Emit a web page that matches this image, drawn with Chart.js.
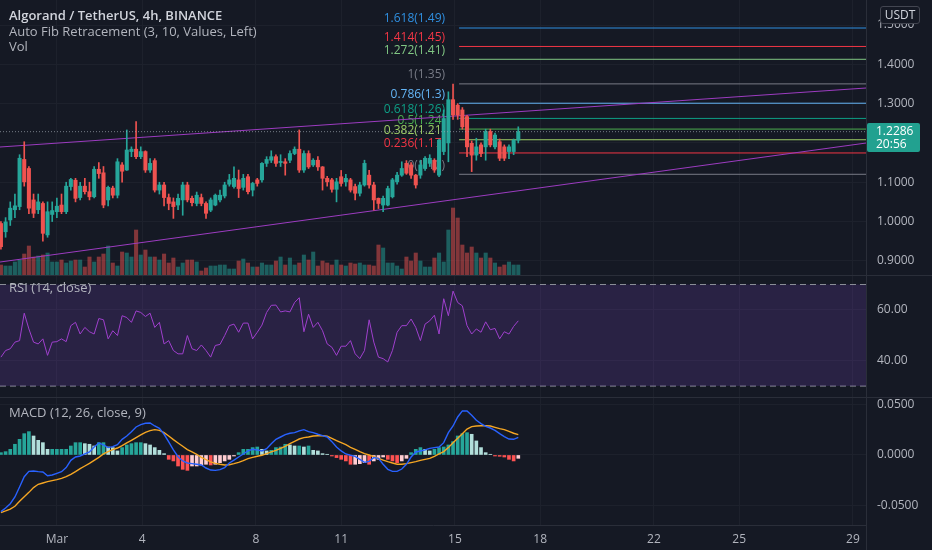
<!DOCTYPE html>
<html>
<head>
<meta charset="utf-8">
<script src="https://cdn.jsdelivr.net/npm/chart.js@4.4.0/dist/chart.umd.min.js"></script>
<style>
  body { margin: 0; background: #151924; width: 932px; height: 550px; overflow: hidden; font-family: 'Open Sans', sans-serif; }
  #wrap { position: relative; width: 932px; height: 550px; }
  canvas { position: absolute; left: 0; }
  .lbl { position: absolute; left: 9px; color: #b2b5be; font-size: 13px; line-height: 16px; white-space: nowrap; }
  .sep { position: absolute; left: 0; width: 932px; height: 1px; background: #2a2e39; }
  #vline { position: absolute; left: 866px; top: 0; width: 1px; height: 550px; background: #2a2e39; }
  #usdt { position: absolute; left: 880px; top: 6px; width: 38px; height: 16px; border: 1px solid #434651; border-radius: 3px;
          background: #151924; color: #d1d4dc; font-size: 12px; line-height: 16px; text-align: center; }
  #last { position: absolute; left: 867px; top: 123px; width: 53px; height: 29px; background: #22a190; border-radius: 2px;
          color: #fff; font-size: 12px; line-height: 13px; padding-top: 1px; box-sizing: border-box; padding-left: 9px; }
</style>
</head>
<body>
<div id="wrap">
  <canvas id="main" width="932" height="275" style="top:0"></canvas>
  <canvas id="rsi" width="932" height="121" style="top:276px"></canvas>
  <canvas id="macd" width="932" height="152" style="top:398px"></canvas>
  <div class="sep" style="top:275px"></div>
  <div class="sep" style="top:397px"></div>
  <div id="vline"></div>
  <div class="lbl" style="top:7px;color:#d1d4dc;font-weight:600">Algorand / TetherUS, 4h, BINANCE</div>
  <div class="lbl" style="top:23px">Auto Fib Retracement (3, 10, Values, Left)</div>
  <div class="lbl" style="top:38px">Vol</div>
  <div class="lbl" style="top:279px">RSI (14, close)</div>
  <div class="lbl" style="top:404px">MACD (12, 26, close, 9)</div>
  <div id="usdt">USDT</div>
  <div id="last">1.2286<br>20:56</div>
</div>
<script>
// 4h candles, Feb 27 -> Mar 17
const opens = [0.995,0.974,1.004,1.030,1.038,1.158,1.135,1.055,1.030,1.046,0.966,1.018,1.025,1.042,1.025,1.089,1.105,1.061,1.090,1.076,
  1.063,1.133,1.124,1.055,1.085,1.067,1.144,1.131,1.178,1.184,1.165,1.178,1.131,1.155,1.080,1.093,1.061,1.050,1.042,1.055,
  1.093,1.059,1.046,1.061,1.046,1.029,1.042,1.055,1.065,1.095,1.089,1.106,1.087,1.114,1.080,1.106,1.106,1.148,1.156,1.165,
  1.150,1.152,1.156,1.173,1.184,1.131,1.173,1.144,1.156,1.139,1.110,1.106,1.082,1.114,1.101,1.106,1.089,1.072,1.093,1.118,
  1.093,1.059,1.042,1.042,1.063,1.101,1.118,1.148,1.144,1.118,1.118,1.135,1.148,1.156,1.118,1.178,1.200,1.310,1.296,1.284,
  1.267,1.199,1.169,1.195,1.190,1.229,1.190,1.203,1.190,1.178,1.178,1.207];
const highs = [1.000,1.010,1.050,1.070,1.170,1.203,1.140,1.070,1.070,1.050,1.050,1.050,1.060,1.070,1.100,1.110,1.110,1.100,1.110,1.100,
  1.140,1.150,1.140,1.090,1.090,1.160,1.150,1.233,1.190,1.254,1.190,1.180,1.160,1.160,1.100,1.100,1.070,1.060,1.070,1.100,
  1.100,1.065,1.075,1.070,1.050,1.060,1.070,1.080,1.100,1.120,1.139,1.131,1.120,1.120,1.100,1.110,1.150,1.165,1.180,1.170,
  1.170,1.160,1.180,1.190,1.233,1.180,1.180,1.160,1.165,1.140,1.115,1.110,1.110,1.130,1.120,1.110,1.095,1.100,1.156,1.130,
  1.100,1.060,1.065,1.090,1.110,1.125,1.152,1.155,1.150,1.120,1.156,1.165,1.170,1.160,1.210,1.284,1.330,1.350,1.300,1.290,
  1.270,1.205,1.212,1.200,1.235,1.235,1.225,1.210,1.195,1.195,1.210,1.241];
const lows = [0.930,0.960,0.990,1.010,1.030,1.090,1.020,1.010,1.020,0.950,0.960,1.000,1.010,1.020,1.020,1.080,1.050,1.055,1.070,1.055,
  1.060,1.110,1.035,1.040,1.060,1.060,1.100,1.130,1.165,1.160,1.160,1.125,1.125,1.075,1.070,1.040,1.030,1.008,1.030,1.016,
  1.050,1.040,1.040,1.040,1.008,1.025,1.040,1.050,1.060,1.090,1.085,1.061,1.080,1.070,1.065,1.090,1.100,1.140,1.150,1.140,
  1.140,1.118,1.150,1.170,1.125,1.125,1.135,1.140,1.130,1.080,1.090,1.075,1.050,1.090,1.090,1.075,1.055,1.065,1.090,1.085,
  1.029,1.033,1.025,1.040,1.060,1.095,1.115,1.120,1.110,1.085,1.110,1.130,1.140,1.125,1.114,1.170,1.152,1.260,1.260,1.235,
  1.165,1.127,1.156,1.165,1.156,1.190,1.185,1.155,1.155,1.160,1.170,1.200];
const closes = [0.936,0.999,1.034,1.040,1.161,1.101,1.034,1.021,1.050,0.970,1.025,1.028,1.039,1.025,1.090,1.107,1.059,1.090,1.076,1.063,
  1.133,1.122,1.042,1.087,1.067,1.152,1.128,1.182,1.184,1.165,1.178,1.131,1.148,1.080,1.093,1.061,1.046,1.038,1.059,1.093,
  1.055,1.048,1.067,1.046,1.021,1.055,1.067,1.067,1.093,1.106,1.110,1.084,1.110,1.076,1.097,1.097,1.148,1.158,1.165,1.148,
  1.153,1.148,1.173,1.184,1.131,1.173,1.139,1.156,1.139,1.110,1.101,1.082,1.101,1.097,1.110,1.080,1.072,1.093,1.148,1.093,
  1.055,1.046,1.059,1.084,1.106,1.118,1.135,1.123,1.118,1.093,1.144,1.161,1.161,1.131,1.207,1.262,1.310,1.271,1.271,1.241,
  1.190,1.169,1.190,1.173,1.229,1.195,1.220,1.161,1.161,1.190,1.207,1.2286];
// volume, millions
const volumes = [2.0,1.8,1.8,2.6,3.0,4.2,5.8,3.6,3.8,4.0,4.4,2.6,2.6,3.0,2.4,2.8,3.0,3.0,1.6,3.6,
  2.6,3.6,4.2,5.8,2.4,1.8,4.6,4.4,3.6,9.0,4.0,5.0,3.6,3.6,3.0,4.2,2.4,3.4,1.6,2.4,
  3.0,3.0,2.6,0.8,1.4,1.8,1.8,2.0,2.0,1.2,1.2,2.8,3.2,2.4,1.6,1.6,2.4,2.0,2.0,2.8,
  3.6,2.0,3.4,2.0,2.4,4.0,3.0,4.6,1.8,2.8,2.4,2.0,3.0,2.0,1.8,2.4,2.2,2.4,2.0,2.0,
  1.8,6.0,5.4,2.4,2.4,1.8,1.2,3.6,2.8,4.4,2.8,1.6,1.6,3.4,4.4,2.6,9.0,13.4,11.4,6.0,
  4.4,5.6,4.4,3.4,4.4,3.4,2.4,1.6,2.0,2.6,2.0,2.0];
const rsi = [41.4,44.0,44.7,47.3,47.9,58.7,52.5,47.3,46.6,48.6,42.1,47.3,47.5,48.6,47.5,53.8,55.1,50.5,53.1,51.4,
  50.5,56.6,56.1,48.6,51.8,49.9,57.7,57.0,55.1,59.6,59.0,57.4,58.7,53.1,55.1,46.6,47.9,44.0,42.7,42.7,
  49.9,44.7,44.0,46.2,44.0,41.4,46.0,46.4,49.9,53.8,54.4,51.2,54.8,54.8,48.6,51.2,54.0,59.0,61.8,61.9,
  59.2,59.6,59.2,62.9,64.8,51.4,58.3,53.1,55.1,51.8,46.6,45.3,42.1,45.7,45.7,47.9,42.7,40.8,44.0,56.1,
  47.3,41.4,40.8,39.5,44.0,51.2,53.8,53.8,56.4,53.1,47.9,54.4,55.7,57.9,50.5,64.4,57.7,67.4,62.9,61.6,
  53.8,50.5,52.5,51.2,55.3,52.2,52.7,48.6,51.4,50.5,53.5,55.7];
const macdLine = [-0.0561,-0.0525,-0.0482,-0.0416,-0.0317,-0.0215,-0.0162,-0.0158,-0.0165,-0.0168,-0.0205,-0.0198,-0.0182,-0.0165,-0.0125,-0.0053,-0.0020,-0.0010,0.0010,0.0030,
  0.0079,0.0119,0.0099,0.0073,0.0083,0.0102,0.0155,0.0188,0.0231,0.0277,0.0300,0.0314,0.0317,0.0287,0.0264,0.0205,0.0129,0.0050,-0.0017,-0.0059,
  -0.0079,-0.0086,-0.0092,-0.0099,-0.0129,-0.0149,-0.0152,-0.0145,-0.0125,-0.0079,-0.0050,-0.0020,0.0010,0.0040,0.0056,0.0050,0.0040,0.0063,0.0112,0.0155,
  0.0178,0.0201,0.0215,0.0221,0.0238,0.0251,0.0231,0.0221,0.0205,0.0191,0.0178,0.0132,0.0079,0.0040,0.0010,-0.0003,-0.0013,-0.0043,-0.0073,-0.0063,
  -0.0026,-0.0033,-0.0092,-0.0142,-0.0162,-0.0162,-0.0139,-0.0092,-0.0020,0.0030,0.0040,0.0050,0.0066,0.0073,0.0079,0.0122,0.0221,0.0287,0.0376,0.0436,
  0.0436,0.0393,0.0343,0.0310,0.0284,0.0267,0.0244,0.0211,0.0182,0.0158,0.0155,0.0175];
const signalLine = [-0.0571,-0.0554,-0.0535,-0.0508,-0.0459,-0.0413,-0.0370,-0.0323,-0.0290,-0.0277,-0.0264,-0.0254,-0.0244,-0.0231,-0.0215,-0.0191,-0.0165,-0.0135,-0.0109,-0.0083,
  -0.0053,-0.0023,0.0010,0.0033,0.0053,0.0069,0.0092,0.0119,0.0145,0.0172,0.0198,0.0224,0.0241,0.0251,0.0244,0.0221,0.0188,0.0152,0.0119,0.0086,
  0.0053,0.0030,0.0007,-0.0023,-0.0046,-0.0069,-0.0083,-0.0092,-0.0099,-0.0096,-0.0086,-0.0073,-0.0056,-0.0036,-0.0023,-0.0013,-0.0003,0.0013,0.0030,0.0046,
  0.0066,0.0086,0.0112,0.0135,0.0158,0.0172,0.0178,0.0188,0.0191,0.0191,0.0185,0.0165,0.0142,0.0122,0.0102,0.0076,0.0056,0.0033,0.0013,0.0000,
  -0.0017,-0.0033,-0.0050,-0.0066,-0.0079,-0.0092,-0.0092,-0.0086,-0.0076,-0.0066,-0.0053,-0.0043,-0.0033,-0.0013,0.0010,0.0033,0.0073,0.0122,0.0165,0.0211,
  0.0257,0.0281,0.0287,0.0290,0.0290,0.0287,0.0274,0.0261,0.0251,0.0234,0.0215,0.0201];
const macdHist = [0.0023,0.0033,0.0056,0.0106,0.0155,0.0211,0.0231,0.0188,0.0145,0.0122,0.0056,0.0056,0.0056,0.0056,0.0056,0.0089,0.0122,0.0122,0.0112,0.0106,
  0.0089,0.0122,0.0122,0.0079,0.0073,0.0040,0.0073,0.0099,0.0112,0.0122,0.0122,0.0112,0.0099,0.0073,0.0046,0.0013,-0.0043,-0.0059,-0.0109,-0.0142,
  -0.0152,-0.0109,-0.0109,-0.0099,-0.0092,-0.0099,-0.0092,-0.0076,-0.0059,-0.0043,-0.0010,0.0023,0.0056,0.0056,0.0073,0.0079,0.0056,0.0040,0.0046,0.0073,
  0.0079,0.0106,0.0099,0.0089,0.0089,0.0079,0.0089,0.0046,0.0040,0.0013,0.0007,-0.0010,-0.0026,-0.0043,-0.0059,-0.0092,-0.0092,-0.0086,-0.0076,-0.0092,
  -0.0059,-0.0043,-0.0020,-0.0043,-0.0059,-0.0076,-0.0059,-0.0033,0.0023,0.0056,0.0073,0.0056,0.0040,0.0056,0.0073,0.0079,0.0099,0.0132,0.0188,0.0211,
  0.0221,0.0205,0.0139,0.0073,0.0023,0.0007,-0.0010,-0.0013,-0.0020,-0.0043,-0.0059,-0.0033];

const dayNums = [1, 4, 8, 11, 15, 18, 22, 25, 29];
const dayLabels = ['Mar', '4', '8', '11', '15', '18', '22', '25', '29'];
const priceTicks = [0.9, 1.0, 1.1, 1.2, 1.3, 1.4, 1.5];
const rsiTicks = [40, 60];
const macdTicks = [-0.05, 0, 0.05];

// auto fib
const fibRatios = [1.618, 1.414, 1.272, 1, 0.786, 0.618, 0.5, 0.382, 0.236, 0];
const fibColors = ['#2f8fe0', '#f23645', '#81c784', '#787b86', '#64b5f6', '#0e9f86', '#4caf50', '#9ccc65', '#f23645', '#787b86'];
const fibLow = 1.1202, fibHigh = 1.3502;
const FIB_START = 98.3;
const lastPrice = 1.2286;
// channel lines (price at left edge, price at right edge)
const upperTrend = [1.1896, 1.3397];
const lowerTrend = [0.897, 1.1997];

const UP = '#26a69a', DOWN = '#ef5350';
const GRID = '#1d212c';
const TXT = '#b2b5be';
const X_MIN = -0.2, X_MAX = 185.6;
const idx = closes.map((_, i) => i);
const dayPos = dayNums.map(d => 12 + (d - 1) * 6.1);

Chart.defaults.font.family = "'Open Sans', sans-serif";
Chart.defaults.animation = false;
Chart.defaults.plugins.legend.display = false;
Chart.defaults.plugins.tooltip.enabled = false;

function xAxis(labels) {
  return {
    type: 'linear', min: X_MIN, max: X_MAX, offset: false,
    grid: { color: GRID, drawTicks: false, offset: false },
    border: { display: labels, color: '#2a2e39' },
    ticks: { display: labels, autoSkip: false, maxRotation: 0, color: TXT, font: { size: 12 }, padding: 7,
      callback: (v, i) => dayLabels[i] },
    afterBuildTicks: s => { s.ticks = dayPos.map(v => ({ value: v })); },
    afterFit: s => { s.height = labels ? 25 : 0; s.paddingLeft = 0; s.paddingRight = 0; }
  };
}
function yAxis(min, max, ticks, digits) {
  return {
    position: 'right', min: min, max: max,
    grid: { color: GRID, drawTicks: false },
    border: { color: '#2a2e39' },
    ticks: { color: TXT, font: { size: 12 }, padding: 11, callback: v => v.toFixed(digits) },
    afterBuildTicks: s => { s.ticks = ticks.map(v => ({ value: v })); },
    afterFit: s => { s.width = 66; s.paddingTop = 0; s.paddingBottom = 0; }
  };
}
const flat = (y) => [{ x: X_MIN, y: y }, { x: X_MAX, y: y }];
const lineDs = (data, color, extra) => Object.assign({ type: 'line', data: data, borderColor: color, borderWidth: 1,
  pointRadius: 0, fill: false, tension: 0 }, extra || {});

// ---- main pane
const isUp = closes.map((c, i) => c >= opens[i]);
const fibDatasets = fibRatios.map((r, i) => lineDs(
  [{ x: FIB_START, y: fibLow + r * (fibHigh - fibLow) }, { x: X_MAX, y: fibLow + r * (fibHigh - fibLow) }],
  fibColors[i], { order: 5 }));

const fibLabels = {
  id: 'fibLabels',
  beforeDatasetsDraw(chart) {
    const ctx = chart.ctx, y = chart.scales.y;
    const right = chart.scales.x.getPixelForValue(FIB_START) - 14;
    ctx.save();
    ctx.font = "12px 'Open Sans'";
    ctx.textAlign = 'right';
    ctx.textBaseline = 'middle';
    fibRatios.forEach((r, i) => {
      const lv = fibLow + r * (fibHigh - fibLow);
      ctx.fillStyle = fibColors[i];
      ctx.fillText(r + '(' + parseFloat(lv.toFixed(2)) + ')', right, y.getPixelForValue(lv) - 9);
    });
    ctx.restore();
  }
};

new Chart(document.getElementById('main'), {
  type: 'bar',
  data: {
    datasets: [
      { label: 'Vol', data: idx.map(i => ({ x: i, y: volumes[i] })), yAxisID: 'yVol', grouped: false, barThickness: 3.4,
        backgroundColor: idx.map(i => isUp[i] ? 'rgba(38,166,154,0.5)' : 'rgba(239,83,80,0.5)'), order: 10 },
      lineDs([{ x: X_MIN, y: upperTrend[0] }, { x: X_MAX, y: upperTrend[1] }], '#9c3cc0', { order: 4 }),
      lineDs([{ x: X_MIN, y: lowerTrend[0] }, { x: X_MAX, y: lowerTrend[1] }], '#9c3cc0', { order: 4 }),
      ...fibDatasets,
      { label: 'wick', data: idx.map(i => ({ x: i, y: [lows[i], highs[i]] })), grouped: false, barThickness: 1,
        backgroundColor: idx.map(i => isUp[i] ? UP : DOWN), order: 2 },
      { label: 'body', data: idx.map(i => ({ x: i, y: [Math.min(opens[i], closes[i]), Math.max(opens[i], closes[i])] })),
        grouped: false, barThickness: 3.4, minBarLength: 1,
        backgroundColor: idx.map(i => isUp[i] ? UP : DOWN), order: 1 },
      lineDs(flat(lastPrice), 'rgba(160,168,176,0.7)', { borderDash: [1, 2], order: 0 })
    ]
  },
  options: {
    responsive: false,
    layout: { padding: 0 },
    scales: {
      x: xAxis(false),
      y: yAxis(0.864, 1.5636, priceTicks, 4),
      yVol: { display: false, min: 0, max: 55 }
    }
  },
  plugins: [fibLabels]
});

// ---- RSI pane
new Chart(document.getElementById('rsi'), {
  type: 'line',
  data: {
    datasets: [
      lineDs(flat(70), '#8a8d96', { borderDash: [6, 4], fill: { value: 30 }, backgroundColor: 'rgba(126,70,200,0.2)' }),
      lineDs(flat(30), '#8a8d96', { borderDash: [6, 4] }),
      lineDs(idx.map(i => ({ x: i, y: rsi[i] })), '#a83fcf', { label: 'RSI' })
    ]
  },
  options: {
    responsive: false,
    layout: { padding: 0 },
    scales: { x: xAxis(false), y: yAxis(25.7, 73.35, rsiTicks, 2) }
  }
});

// ---- MACD pane
new Chart(document.getElementById('macd'), {
  type: 'bar',
  data: {
    datasets: [
      { label: 'Histogram', data: idx.map(i => ({ x: i, y: macdHist[i] })), grouped: false, barThickness: 3, order: 3,
        backgroundColor: ctx => {
          const i = ctx.dataIndex, h = macdHist[i], p = i > 0 ? macdHist[i - 1] : h;
          if (h >= 0) return h >= p ? '#26a69a' : '#b2dfdb';
          return h < p ? '#ff5252' : '#ffcdd2';
        } },
      lineDs(idx.map(i => ({ x: i, y: macdLine[i] })), '#2962ff', { borderWidth: 1.4, order: 1 }),
      lineDs(idx.map(i => ({ x: i, y: signalLine[i] })), '#f5a623', { borderWidth: 1.4, order: 2 })
    ]
  },
  options: {
    responsive: false,
    layout: { padding: 0 },
    scales: { x: xAxis(true), y: yAxis(-0.0693, 0.0564, macdTicks, 4) }
  }
});
</script>
</body>
</html>
